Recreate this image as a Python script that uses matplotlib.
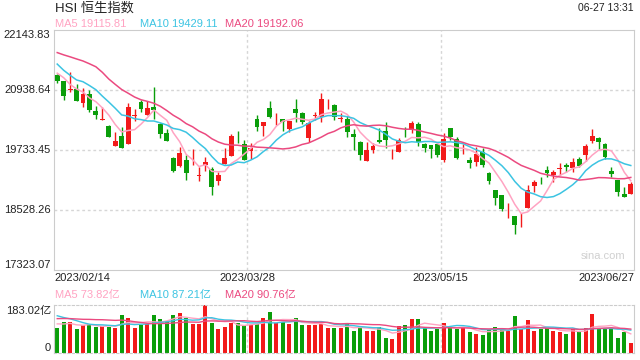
import numpy as np
import matplotlib
matplotlib.use("Agg")
import matplotlib.pyplot as plt
import matplotlib.transforms as mtransforms

plt.rcParams["font.family"] = ["Liberation Sans", "Noto Sans CJK SC"]

# daily HSI candles 2023/02/14 - 2023/06/27
opens = [21240, 21120, 20945, 20953, 20683, 20858, 20523, 20336, 20215, 19820,
         20015, 19860, 20415, 20697, 20443, 20597, 20256, 20075, 19573, 19412,
         19532, 19530, 19220, 19432, 19352, 19117, 19446, 19619, 19920, 19855,
         19707, 20356, 20221, 20571, 20370, 20356, 20155, 20551, 20470, 19980,
         20415, 20402, 20632, 20631, 20365, 20350, 20055, 19894, 19518, 19733,
         19934, 20121, 19705, 19700, 20073, 20135, 20256, 19854, 19834, 19854,
         19532, 20169, 19948, 19690, 19532, 19486, 19700, 19277, 18930, 18829,
         18560, 18408, 18180, 18574, 19010, 19110, 19332, 19231, 19357, 19432,
         19366, 19547, 19633, 19920, 19980, 19854, 19318, 19131, 18850, 18850]
highs = [21260, 21125, 21306, 21059, 20973, 20939, 20617, 20591, 20236, 20089,
         20189, 20684, 20551, 20737, 20711, 21005, 20270, 20155, 19600, 19787,
         19633, 19747, 19398, 19587, 19386, 19286, 19774, 20055, 20121, 19934,
         19868, 20436, 20305, 20724, 20470, 20360, 20320, 20758, 20503, 20316,
         20491, 20872, 20752, 20657, 20470, 20416, 20149, 19920, 19900, 19868,
         20169, 20290, 19754, 19980, 20201, 20322, 20290, 19880, 19835, 19855,
         20069, 20170, 19989, 19854, 19600, 19800, 19767, 19298, 18930, 18830,
         18663, 18410, 18474, 19030, 19131, 19191, 19412, 19332, 19466, 19466,
         19567, 19600, 19848, 20149, 20000, 19868, 19386, 19131, 18996, 19097]
lows = [21085, 20737, 20892, 20710, 20603, 20503, 20350, 20330, 19989, 19815,
        19776, 19855, 20322, 20503, 20440, 20362, 19980, 19918, 19285, 19398,
        19131, 19438, 19117, 19318, 18829, 19030, 19446, 19615, 19868, 19530,
        19553, 20115, 20015, 20370, 20236, 20121, 20101, 20290, 20256, 19888,
        20336, 20302, 20551, 20336, 20302, 19989, 19733, 19532, 19516, 19667,
        19880, 19767, 19547, 19697, 19989, 20081, 19820, 19700, 19579, 19600,
        19499, 19934, 19553, 19653, 19366, 19418, 19386, 19050, 18628, 18514,
        18374, 18046, 18180, 18574, 18896, 19050, 19197, 19097, 19231, 19298,
        19298, 19386, 19518, 19868, 19747, 19547, 19197, 18812, 18783, 18850]
closes = [21125, 20825, 20955, 20724, 20858, 20537, 20443, 20340, 20001, 19914,
          19780, 20591, 20420, 20557, 20577, 20537, 20061, 19920, 19312, 19673,
          19265, 19535, 19225, 19498, 18996, 19231, 19567, 20015, 19912, 19532,
          19780, 20201, 20302, 20402, 20376, 20290, 20316, 20477, 20302, 20270,
          20420, 20752, 20640, 20390, 20370, 20089, 19989, 19627, 19733, 19820,
          19894, 19934, 19710, 19934, 20068, 20282, 19894, 19768, 19748, 19633,
          19954, 19989, 19566, 19695, 19466, 19653, 19432, 19117, 18763, 18542,
          18565, 18227, 18185, 18930, 19097, 19104, 19265, 19298, 19362, 19398,
          19498, 19418, 19814, 20015, 19900, 19600, 19245, 18896, 18783, 19050]
# turnover, 亿
volumes = [96, 118, 120, 90, 105, 109, 101, 103, 100, 97,
           146, 135, 97, 105, 111, 146, 128, 122, 143, 153,
           135, 111, 109, 183.02, 115, 90, 100, 115, 115, 105,
           105, 111, 135, 158, 115, 120, 109, 135, 105, 105,
           105, 111, 96, 96, 94, 111, 85, 101, 85, 82,
           101, 58, 54, 103, 108, 131, 131, 96, 85, 93,
           114, 99, 90, 96, 79, 73, 69, 90, 99, 89,
           85, 141, 90, 127, 85, 90, 95, 85, 79, 73,
           90, 82, 96, 150, 90, 95, 95, 58, 79, 38]

# sessions before the window, only used to warm up the moving averages
prior_closes = [21738, 21746, 21577, 21678, 21651, 21650, 22566, 22689, 22069, 21842,
                22072, 21958, 21660, 21222, 21298, 21283, 21624, 21190, 21164]
prior_volumes = [110, 125, 118, 130, 115, 122, 108, 126, 120, 126,
                 185, 170, 160, 180, 170, 120, 108, 118, 113]

price_ticks = [17323.07, 18528.26, 19733.45, 20938.64, 22143.83]
vol_max = 183.02
date_labels = ["2023/02/14", "2023/03/28", "2023/05/15", "2023/06/27"]

RED = "#f21a1a"
GREEN = "#0a9e0a"
C_MA5 = "#ffa3c2"
C_MA10 = "#3cc4e2"
C_MA20 = "#eb4a80"
GRID = "#d6d6d6"


def moving_avg(vals, prior, n):
    full = np.array(prior + vals, dtype=float)
    ma = np.convolve(full, np.ones(n) / n, mode="valid")
    return ma[-len(vals):]


o = np.array(opens, float)
h = np.array(highs, float)
l = np.array(lows, float)
c = np.array(closes, float)
v = np.array(volumes, float)
x = np.arange(len(c))
up = c >= o
colors = np.where(up, RED, GREEN)

fig = plt.figure(figsize=(6.4, 3.6), dpi=100)
ax = fig.add_axes([54 / 640, 1 - 270 / 360, 580 / 640, 240 / 360])
axv = fig.add_axes([54 / 640, 1 - 353 / 360, 580 / 640, 48 / 360])

n = len(c)
thirds = [-0.5 + n / 3, -0.5 + 2 * n / 3]

# price panel
ax.vlines(x, l, h, colors=colors, linewidth=1, zorder=2)
body_low = np.minimum(o, c)
body_h = np.maximum(np.abs(c - o), 12)
ax.bar(x, body_h, bottom=body_low, width=0.75, color=colors, linewidth=0, zorder=3)

ax.plot(x, moving_avg(closes, prior_closes, 5), color=C_MA5, lw=1.1, zorder=4)
ax.plot(x, moving_avg(closes, prior_closes, 10), color=C_MA10, lw=1.1, zorder=4)
ax.plot(x, moving_avg(closes, prior_closes, 20), color=C_MA20, lw=1.1, zorder=4)

ax.set_xlim(-0.5, n - 0.5)
ax.set_ylim(price_ticks[0], price_ticks[-1])
for t in price_ticks[1:-1]:
    ax.axhline(t, color=GRID, lw=1, ls=(0, (2, 2)), zorder=1)
for t in thirds:
    ax.axvline(t, color=GRID, lw=1, ls=(0, (2, 2)), zorder=1)
ax.set_yticks([])
ax.set_xticks([])
for s in ax.spines.values():
    s.set_color("#cccccc")

ytrans = mtransforms.blended_transform_factory(ax.transAxes, ax.transData)
for i, t in enumerate(price_ticks):
    va = "bottom" if i == 0 else ("top" if i == len(price_ticks) - 1 else "center")
    ax.text(-0.006, t, f"{t:.2f}", transform=ytrans, ha="right", va=va,
            fontsize=8, color="#222222")

trans = mtransforms.blended_transform_factory(ax.transData, ax.transAxes)
xpos = [-0.5, thirds[0], thirds[1], n - 0.5]
has = ["left", "center", "center", "right"]
for xp, lab, ha in zip(xpos, date_labels, has):
    ax.text(xp, -0.035, lab, transform=trans, ha=ha, va="center", fontsize=8, color="#222222")

ax.text(0.985, 0.06, "sina.com", transform=ax.transAxes, ha="right", va="center",
        fontsize=8, color="#d0d0d0")

# volume panel
axv.bar(x, v, width=0.62, color=colors, linewidth=0, zorder=2)
axv.plot(x, moving_avg(volumes, prior_volumes, 5), color=C_MA5, lw=1, zorder=3)
axv.plot(x, moving_avg(volumes, prior_volumes, 10), color=C_MA10, lw=1, zorder=3)
axv.plot(x, moving_avg(volumes, prior_volumes, 20), color=C_MA20, lw=1, zorder=3)
axv.set_xlim(-0.5, n - 0.5)
axv.set_ylim(0, vol_max)
for t in thirds:
    axv.axvline(t, color=GRID, lw=1, ls=(0, (2, 2)), zorder=1)
axv.set_xticks([])
axv.set_yticks([])
for s in ["left", "right"]:
    axv.spines[s].set_color("#cccccc")
for s in ["top", "bottom"]:
    axv.spines[s].set_color("#cccccc")
    axv.spines[s].set_linestyle((0, (2, 2)))
fig.text(51 / 640, 1 - 311 / 360, "183.02亿", ha="right", va="center", fontsize=8, color="#222222")
fig.text(51 / 640, 1 - 348 / 360, "0", ha="right", va="center", fontsize=8, color="#222222")

# header texts
fig.text(55 / 640, 1 - 8 / 360, "HSI 恒生指数", ha="left", va="center", fontsize=9.5, color="#222222")
fig.text(634 / 640, 1 - 8 / 360, "06-27 13:31", ha="right", va="center", fontsize=7.5, color="#222222")

for xp, lab, col in [(55, "MA5 19115.81", C_MA5), (140, "MA10 19429.11", C_MA10),
                     (225, "MA20 19192.06", C_MA20)]:
    fig.text(xp / 640, 1 - 24 / 360, lab, ha="left", va="center", fontsize=8, color=col)
for xp, lab, col in [(55, "MA5 73.82亿", C_MA5), (140, "MA10 87.21亿", C_MA10),
                     (225, "MA20 90.76亿", C_MA20)]:
    fig.text(xp / 640, 1 - 295 / 360, lab, ha="left", va="center", fontsize=8, color=col)

fig.savefig("out.png", dpi=100, facecolor="white")
